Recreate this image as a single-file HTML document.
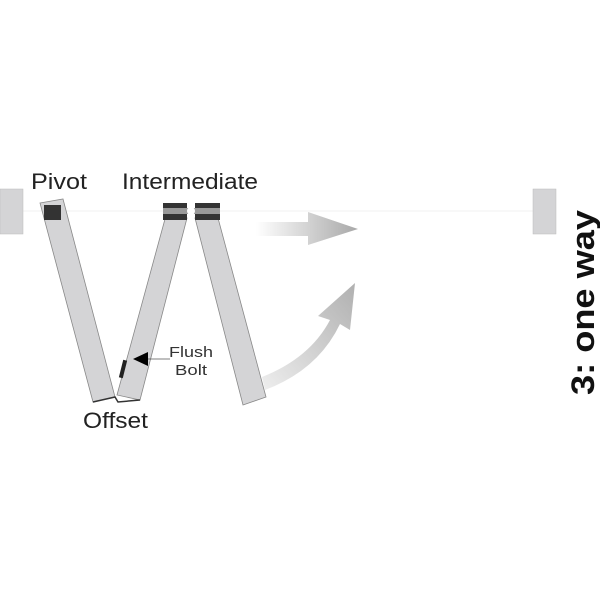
<!DOCTYPE html>
<html><head><style>body{margin:0;background:#fff}</style></head><body>
<svg width="600" height="600" viewBox="0 0 600 600" xmlns="http://www.w3.org/2000/svg" font-family="Liberation Sans, sans-serif">
<defs>
<linearGradient id="g1" x1="0" x2="1"><stop offset="0" stop-color="#fff"/><stop offset="1" stop-color="#a8a8a8"/></linearGradient>
<linearGradient id="g2" x1="0" y1="1" x2="1" y2="0"><stop offset="0" stop-color="#eee"/><stop offset="1" stop-color="#b0b0b0"/></linearGradient>
</defs>
<line x1="0" y1="211" x2="556" y2="211" stroke="#f2f2f2" stroke-width="1"/>
<rect x="0" y="189" width="23" height="45" fill="#d4d4d6" stroke="#bbb" stroke-width="0.5"/>
<rect x="533" y="189" width="23" height="45" fill="#d4d4d6" stroke="#bbb" stroke-width="0.5"/>
<g fill="#d4d4d6" stroke="#888" stroke-width="0.8">
<polygon points="40,203 63,199 115,397 93,402"/>
<polygon points="165,219 187,218 140,400 117,395"/>
<polygon points="195,218 218,218 266,397 243,405"/>
</g>
<rect x="44" y="205" width="17" height="15" fill="#333"/>
<g fill="#333">
<rect x="163" y="203" width="24" height="5"/><rect x="163" y="214" width="24" height="6"/>
<rect x="195" y="203" width="25" height="5"/><rect x="195" y="214" width="25" height="6"/>
</g>
<rect x="163" y="208" width="57" height="6" fill="#999"/>
<circle cx="191" cy="211" r="4" fill="#fff"/>
<polyline points="93,402 115,397 118,402 140,400" fill="none" stroke="#333" stroke-width="1.5"/>
<rect x="121" y="360" width="4" height="18" fill="#222" transform="rotate(14 123 369)"/>
<polygon points="133,359 148,352 148,366" fill="#000"/>
<line x1="148" y1="359" x2="170" y2="359" stroke="#555" stroke-width="0.8"/>
<path d="M256,222 H308 V212 L358,229 L308,245 V236 H256 Z" fill="url(#g1)"/>
<path d="M262,377 Q310,358 330,320 L318,316 L355,283 L350,330 L340,324 Q318,370 265,390 Z" fill="url(#g2)"/>
<g fill="#222" font-size="22">
<text x="31" y="189" textLength="56" lengthAdjust="spacingAndGlyphs">Pivot</text>
<text x="122" y="189" textLength="136" lengthAdjust="spacingAndGlyphs">Intermediate</text>
<text x="83" y="428" textLength="65" lengthAdjust="spacingAndGlyphs">Offset</text>
</g>
<g fill="#333" font-size="15">
<text x="169" y="357" textLength="44" lengthAdjust="spacingAndGlyphs">Flush</text>
<text x="175" y="375" textLength="32" lengthAdjust="spacingAndGlyphs">Bolt</text>
</g>
<text x="0" y="0" transform="translate(594,395) rotate(-90)" font-size="32" font-weight="bold" fill="#111" textLength="185" lengthAdjust="spacingAndGlyphs">3: one way</text>
</svg>
</body></html>
